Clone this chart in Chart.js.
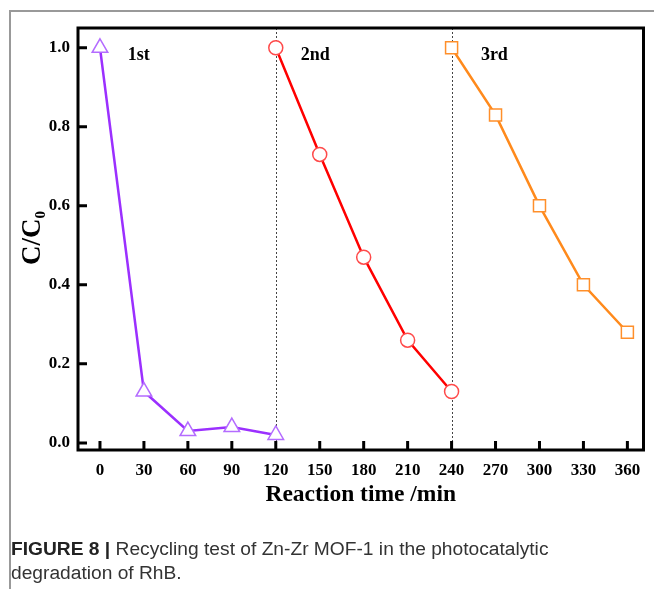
<!DOCTYPE html>
<html>
<head>
<meta charset="utf-8">
<script src="https://cdn.jsdelivr.net/npm/chart.js@4"></script>
<style>
  body { margin: 0; background: #fff; }
  #wrap { position: relative; width: 654px; height: 589px; overflow: hidden; }
  #frame { position: absolute; left: 9px; top: 10px; width: 660px; height: 600px;
           border-top: 2px solid #999; border-left: 2px solid #999; }
  #chart { position: absolute; left: 0; top: 0; }
  #caption { position: absolute; left: 11px; top: 537px; width: 640px;
             font-family: "Liberation Sans", Arial, sans-serif; font-size: 19.2px;
             line-height: 24px; color: #333; }
  #caption b { color: #222; }
</style>
</head>
<body>
<div id="wrap">
  <div id="frame"></div>
  <canvas id="chart" width="654" height="589"></canvas>
  <div id="caption"><b>FIGURE 8 |</b> Recycling test of Zn-Zr MOF-1 in the photocatalytic<br>degradation of RhB.</div>
</div>
<script>
        const run1Time = [0, 30, 60, 90, 120];
        const run1Ratio = [1.0, 0.13, 0.03, 0.04, 0.02];
        const run2Time = [120, 150, 180, 210, 240];
        const run2Ratio = [1.0, 0.73, 0.47, 0.26, 0.13];
        const run3Time = [240, 270, 300, 330, 360];
        const run3Ratio = [1.0, 0.83, 0.60, 0.40, 0.28];

        const xTicks = [0, 30, 60, 90, 120, 150, 180, 210, 240, 270, 300, 330, 360];
        const yTicks = [0.0, 0.2, 0.4, 0.6, 0.8, 1.0];
        const runLabels = ['1st', '2nd', '3rd'];
        const runLabelX = [19, 137, 260];
        const dividers = [120, 240];

        const serif = '"Liberation Serif", "Times New Roman", serif';

        function toPoints(xs, ys) {
            return xs.map((x, i) => ({ x: x, y: ys[i] }));
        }

        // box, inward ticks, dotted dividers and the run labels
        const decorPlugin = {
            id: 'decor',
            beforeDatasetsDraw(chart) {
                const ctx = chart.ctx;
                const area = chart.chartArea;
                const xs = chart.scales.x;
                ctx.save();
                ctx.strokeStyle = '#444';
                ctx.lineWidth = 1;
                ctx.setLineDash([2, 2]);
                dividers.forEach(v => {
                    const px = Math.round(xs.getPixelForValue(v)) + 0.5;
                    ctx.beginPath();
                    ctx.moveTo(px, area.top);
                    ctx.lineTo(px, area.bottom);
                    ctx.stroke();
                });
                ctx.restore();
            },
            afterDraw(chart) {
                const ctx = chart.ctx;
                const area = chart.chartArea;
                const xs = chart.scales.x;
                const ys = chart.scales.y;
                ctx.save();
                ctx.strokeStyle = '#000';
                ctx.lineWidth = 3;
                ctx.strokeRect(area.left, area.top, area.right - area.left, area.bottom - area.top);

                ctx.beginPath();
                xTicks.forEach(v => {
                    const px = xs.getPixelForValue(v);
                    ctx.moveTo(px, area.bottom);
                    ctx.lineTo(px, area.bottom - 9);
                });
                yTicks.forEach(v => {
                    const py = ys.getPixelForValue(v);
                    ctx.moveTo(area.left, py);
                    ctx.lineTo(area.left + 9, py);
                });
                ctx.stroke();

                ctx.fillStyle = '#000';
                ctx.font = 'bold 18px ' + serif;
                ctx.textBaseline = 'middle';
                ctx.textAlign = 'left';
                runLabels.forEach((t, i) => {
                    ctx.fillText(t, xs.getPixelForValue(runLabelX[i]), ys.getPixelForValue(0.982));
                });

                // y axis title C/C0 with subscript
                ctx.translate(31, 238);
                ctx.rotate(-Math.PI / 2);
                ctx.font = 'bold 27px ' + serif;
                const main = 'C/C';
                const w1 = ctx.measureText(main).width;
                ctx.font = 'bold 15px ' + serif;
                const w2 = ctx.measureText('0').width;
                const start = -(w1 + w2) / 2;
                ctx.font = 'bold 27px ' + serif;
                ctx.textAlign = 'left';
                ctx.textBaseline = 'alphabetic';
                ctx.fillText(main, start, 9);
                ctx.font = 'bold 15px ' + serif;
                ctx.fillText('0', start + w1, 14);
                ctx.restore();
            }
        };

        const ctx = document.getElementById('chart').getContext('2d');
        const chart = new Chart(ctx, {
            type: 'line',
            data: {
                datasets: [
                    {
                        label: '1st',
                        data: toPoints(run1Time, run1Ratio),
                        borderColor: '#9b30ff',
                        borderWidth: 2.5,
                        pointStyle: 'triangle',
                        pointRadius: 9,
                        pointBorderColor: '#b46cff',
                        pointBackgroundColor: '#fff',
                        pointBorderWidth: 1.5
                    },
                    {
                        label: '2nd',
                        data: toPoints(run2Time, run2Ratio),
                        borderColor: '#ff0000',
                        borderWidth: 2.5,
                        pointStyle: 'circle',
                        pointRadius: 7,
                        pointBorderColor: '#ff4a4a',
                        pointBackgroundColor: '#fff',
                        pointBorderWidth: 1.5
                    },
                    {
                        label: '3rd',
                        data: toPoints(run3Time, run3Ratio),
                        borderColor: '#ff8a1c',
                        borderWidth: 2.5,
                        pointStyle: 'rect',
                        pointRadius: 8.5,
                        pointBorderColor: '#ff8f2a',
                        pointBackgroundColor: '#fff',
                        pointBorderWidth: 1.5
                    }
                ]
            },
            options: {
                responsive: false,
                animation: false,
                layout: { padding: { left: 0, top: 28, right: 5, bottom: 79 } },
                plugins: {
                    legend: { display: false },
                    tooltip: { enabled: false }
                },
                scales: {
                    x: {
                        type: 'linear',
                        min: -15,
                        max: 371,
                        grid: { display: false },
                        border: { display: false },
                        afterBuildTicks: scale => { scale.ticks = xTicks.map(v => ({ value: v })); },
                        afterFit: scale => { scale.height = 60; },
                        ticks: {
                            padding: 2,
                            maxRotation: 0,
                            autoSkip: false,
                            color: '#000',
                            font: { family: serif, size: 17, weight: 'bold' }
                        },
                        title: {
                            display: true,
                            text: 'Reaction time /min',
                            color: '#000',
                            padding: { top: 0, bottom: 1 },
                            font: { family: serif, size: 23.5, weight: 'bold' }
                        }
                    },
                    y: {
                        min: -0.018,
                        max: 1.05,
                        grid: { display: false },
                        border: { display: false },
                        afterBuildTicks: scale => { scale.ticks = yTicks.map(v => ({ value: v })); },
                        afterFit: scale => { scale.width = 78; },
                        ticks: {
                            padding: 0,
                            color: '#000',
                            font: { family: serif, size: 17, weight: 'bold' },
                            callback: v => Number(v).toFixed(1)
                        }
                    }
                }
            },
            plugins: [decorPlugin]
        });
</script>
</body>
</html>
